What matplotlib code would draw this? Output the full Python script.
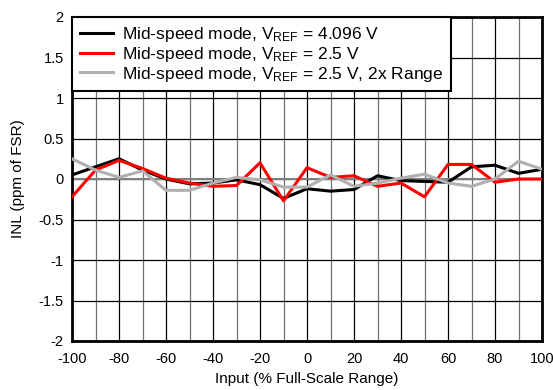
import matplotlib
matplotlib.use('Agg')
import matplotlib.pyplot as plt
import numpy as np

plt.rcParams['font.family'] = ['Liberation Sans', 'DejaVu Sans']
plt.rcParams['mathtext.fontset'] = 'custom'
plt.rcParams['mathtext.rm'] = 'Liberation Sans'
plt.rcParams['mathtext.it'] = 'Liberation Sans:italic'
plt.rcParams['axes.unicode_minus'] = False

# Input (% full-scale range)
x = np.arange(-100, 101, 10)

# INL (ppm of FSR) per configuration
inl_4096 = [0.05, 0.15, 0.25, 0.11, 0.0, -0.06, -0.05, -0.01, -0.07, -0.24, -0.12,
            -0.15, -0.13, 0.04, -0.02, -0.03, -0.04, 0.15, 0.17, 0.07, 0.12]
inl_25 = [-0.22, 0.11, 0.23, 0.13, 0.01, -0.05, -0.09, -0.08, 0.2, -0.27, 0.14,
          0.02, 0.04, -0.09, -0.05, -0.22, 0.18, 0.18, -0.04, 0.0, 0.0]
inl_25_2x = [0.25, 0.11, 0.02, 0.1, -0.14, -0.14, -0.05, 0.02, -0.01, -0.1, -0.1,
             0.05, -0.09, -0.05, 0.01, 0.06, -0.05, -0.09, 0.0, 0.22, 0.12]

labels = [r'Mid-speed mode, V$_\mathrm{REF}$ = 4.096 V',
          r'Mid-speed mode, V$_\mathrm{REF}$ = 2.5 V',
          r'Mid-speed mode, V$_\mathrm{REF}$ = 2.5 V, 2x Range']

fig = plt.figure(figsize=(5.53, 3.9), dpi=100)
ax = fig.add_axes([72/553, 1-341/390, 470/553, 324/390])

ax.plot(x, inl_4096, color='black', lw=2.2, label=labels[0], zorder=3)
ax.plot(x, inl_25, color='#ff0000', lw=2.2, label=labels[1], zorder=3)
ax.plot(x, inl_25_2x, color='#b0b0b0', lw=2.2, label=labels[2], zorder=3)

ax.set_xlim(-100, 100)
ax.set_ylim(-2, 2)
ax.set_xticks(np.arange(-100, 101, 20))
ax.set_xticks(np.arange(-90, 100, 20), minor=True)
ax.set_yticks(np.arange(-2, 2.01, 0.5))
ax.set_yticklabels(['-2', '-1.5', '-1', '-0.5', '0', '0.5', '1', '1.5', '2'])
ax.grid(True, which='major', color='black', lw=0.9)
ax.grid(True, which='minor', axis='x', color='#707070', lw=0.9)
ax.axhline(0, color='#808080', lw=1.5, zorder=2)
ax.tick_params(which='both', length=0, labelsize=10.5)
ax.tick_params(axis='x', pad=8)
ax.tick_params(axis='y', pad=6)

for s in ax.spines.values():
    s.set_linewidth(2)

ax.set_xlabel('Input (% Full-Scale Range)', fontsize=11, labelpad=4)
ax.set_ylabel('INL (ppm of FSR)', fontsize=11, labelpad=10)

leg = ax.legend(loc='upper left', fontsize=12.5, frameon=True, fancybox=False,
                borderaxespad=0, handlelength=1.9, labelspacing=0.05,
                borderpad=0.45, handletextpad=0.55)
leg.get_frame().set_edgecolor('black')
leg.get_frame().set_linewidth(1.5)
leg.get_frame().set_alpha(1)

fig.savefig('out.png', dpi=100)
